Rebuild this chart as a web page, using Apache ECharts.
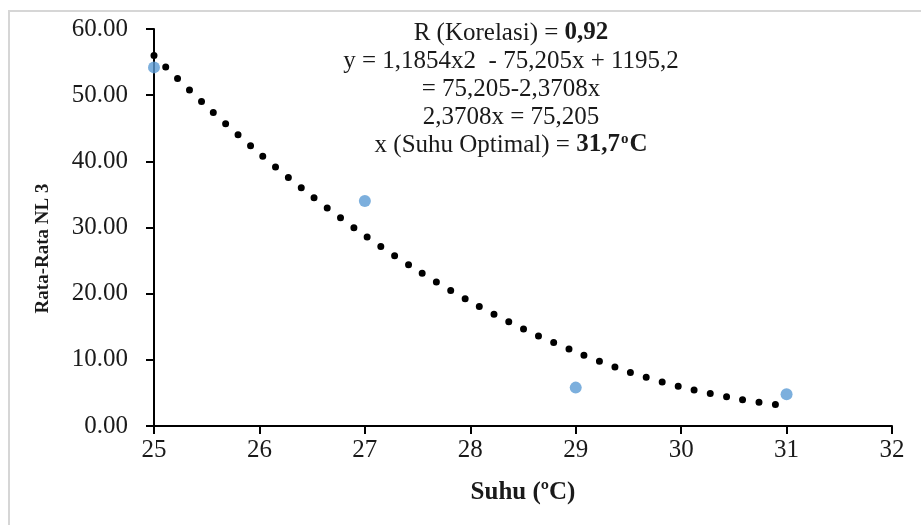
<!DOCTYPE html>
<html>
<head>
<meta charset="utf-8">
<script src="https://cdn.jsdelivr.net/npm/echarts@6/dist/echarts.min.js"></script>
<style>
  html, body { margin: 0; padding: 0; background: #fff; }
  #chart { width: 921px; height: 525px; }
</style>
</head>
<body>
<div id="chart"></div>
<script>
// measured points
const suhu = [25, 27, 29, 31];
const rataRataNL3 = [54.2, 34.0, 5.8, 4.8];

// dotted poly trendline, every 0.5 degree
const trendSuhu = [25, 25.5, 26, 26.5, 27, 27.5, 28, 28.5, 29, 29.5, 30, 30.5, 31];
const trendNL3 = [56.0, 48.3, 41.2, 34.7, 28.8, 23.5, 18.8, 14.7, 11.2, 8.2, 5.9, 4.2, 3.0];

const noteLines = [
    'R (Korelasi) = {b|0,92}',
    'y = 1,1854x2  - 75,205x + 1195,2',
    '= 75,205-2,3708x',
    '2,3708x = 75,205',
    'x (Suhu Optimal) = {b|31,7}{sup|o}{b|C}'
];

const serif = '"Liberation Serif", "Times New Roman", serif';
const ink = '#1a1a1a';

let chartOption = {
    animation: false,
    backgroundColor: '#fff',
    textStyle: { fontFamily: serif },
    graphic: [{
        type: 'rect',
        shape: { x: 9, y: 11, width: 940, height: 540 },
        style: { fill: 'none', stroke: '#d6d6d6', lineWidth: 2 },
        silent: true
    }],
    title: {
        text: noteLines.join('\n'),
        left: 506,
        top: 14,
        textAlign: 'center',
        textStyle: {
            fontFamily: serif,
            fontSize: 25,
            fontWeight: 'normal',
            color: ink,
            lineHeight: 28,
            rich: {
                b: { fontFamily: serif, fontSize: 25, fontWeight: 'bold', color: ink, lineHeight: 28 },
                sup: { fontFamily: serif, fontSize: 15, fontWeight: 'bold', color: ink, lineHeight: 28, padding: [0, 1, 11, 1] }
            }
        }
    },
    grid: { left: 154, right: 29, top: 29, bottom: 99 },
    xAxis: {
        type: 'value',
        min: 25,
        max: 32,
        interval: 1,
        name: 'Suhu (\u00baC)',
        nameLocation: 'middle',
        nameGap: 54,
        nameTextStyle: { fontFamily: serif, fontSize: 25, fontWeight: 'bold', color: ink },
        splitLine: { show: false },
        axisLine: { onZero: false, lineStyle: { color: '#000', width: 2 } },
        axisTick: { show: true, length: 8, lineStyle: { color: '#000', width: 2 } },
        axisLabel: { margin: 12, fontFamily: serif, fontSize: 25, color: ink }
    },
    yAxis: {
        type: 'value',
        min: 0,
        max: 60,
        interval: 10,
        name: 'Rata-Rata NL 3',
        nameLocation: 'middle',
        nameGap: 101,
        nameTextStyle: { fontFamily: serif, fontSize: 19, fontWeight: 'bold', color: ink, padding: [0, 42, 0, 0] },
        splitLine: { show: false },
        axisLine: { show: true, lineStyle: { color: '#000', width: 2 } },
        axisTick: { show: true, length: 8, lineStyle: { color: '#000', width: 2 } },
        axisLabel: {
            margin: 26,
            fontFamily: serif,
            fontSize: 25,
            color: ink,
            formatter: (v) => v.toFixed(2)
        }
    },
    series: [
        {
            type: 'line',
            data: trendSuhu.map((x, i) => [x, trendNL3[i]]),
            smooth: 0.3,
            showSymbol: false,
            silent: true,
            lineStyle: { color: '#000', width: 7, type: [0, 16.5], cap: 'round' },
            z: 2
        },
        {
            type: 'scatter',
            data: suhu.map((x, i) => [x, rataRataNL3[i]]),
            symbolSize: 12,
            itemStyle: { color: '#5b9bd5' },
            z: 3
        }
    ]
};

const mychart = echarts.init(document.getElementById('chart'));
mychart.setOption(chartOption);
</script>
</body>
</html>
